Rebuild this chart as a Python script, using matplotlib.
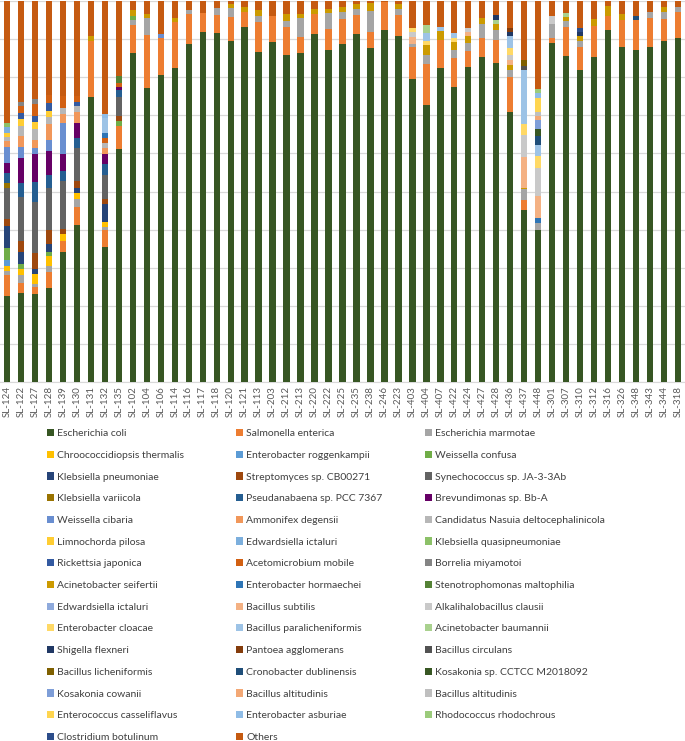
import matplotlib
matplotlib.use('Agg')
import matplotlib.pyplot as plt
from matplotlib.patches import Patch
import numpy as np

plt.rcParams['font.family'] = ['Lato', 'DejaVu Sans']

samples = ['SL-124', 'SL-122', 'SL-127', 'SL-128', 'SL-139', 'SL-130', 'SL-131', 'SL-132', 'SL-135',
           'SL-102', 'SL-104', 'SL-106', 'SL-114', 'SL-116', 'SL-117', 'SL-118', 'SL-120', 'SL-121', 'SL-113',
           'SL-203', 'SL-212', 'SL-213', 'SL-220', 'SL-222', 'SL-225', 'SL-235', 'SL-238', 'SL-246', 'SL-223',
           'SL-403', 'SL-404', 'SL-407', 'SL-422', 'SL-424', 'SL-427', 'SL-428', 'SL-436', 'SL-437', 'SL-448',
           'SL-301', 'SL-307', 'SL-310', 'SL-312', 'SL-316', 'SL-326', 'SL-348', 'SL-343', 'SL-344', 'SL-318']

# relative abundance (%) of the main taxa, one value per sample
ecoli = [22.5, 23.3, 23.0, 24.6, 34.0, 41.0, 75.0, 35.3, 61.0,
         86.5, 77.1, 80.4, 82.5, 88.8, 91.8, 91.6, 89.5, 93.3, 86.5,
         88.9, 85.8, 86.2, 91.3, 87.2, 88.7, 91.5, 87.5, 92.4, 90.8,
         79.7, 72.8, 82.3, 77.6, 82.7, 85.4, 83.6, 70.8, 45.3, 40.0,
         88.8, 85.4, 81.9, 85.2, 92.3, 88.0, 87.2, 88.0, 89.3, 90.4]
salmonella = [5.5, 2.6, 1.8, 4.2, 3.1, 4.7, 14.7, 4.5, 6.0,
              7.3, 14.0, 9.8, 12.1, 7.7, 5.1, 4.7, 6.4, 3.8, 8.1,
              7.0, 7.4, 4.2, 5.2, 5.5, 6.5, 5.0, 4.4, 7.4, 5.7,
              8.3, 10.6, 7.4, 7.4, 4.2, 5.0, 6.2, 9.3, 2.6, 0.0,
              1.4, 7.6, 5.9, 8.2, 3.7, 7.0, 7.8, 7.6, 6.0, 6.7]
marmotae = [1.0, 2.0, 1.0, 1.6, 0.0, 2.1, 0.0, 0.8, 0.0,
            1.2, 4.4, 0.0, 0.0, 1.1, 0.0, 1.9, 2.2, 0.0, 1.5,
            0.0, 1.6, 5.0, 0.0, 4.3, 1.7, 1.5, 5.4, 0.0, 1.5,
            0.9, 2.4, 0.0, 2.2, 2.2, 3.7, 2.6, 1.8, 2.9, 1.7,
            3.8, 1.7, 1.7, 0.0, 0.0, 0.0, 0.0, 1.5, 1.8, 1.4]
others = [32.0, 26.4, 25.7, 24.6, 25.0, 24.9, 9.2, 29.6, 19.6,
          2.4, 3.3, 8.6, 4.4, 2.4, 3.1, 1.8, 0.8, 1.7, 2.4,
          3.8, 3.3, 3.3, 2.2, 2.0, 1.7, 0.9, 0.6, 0.3, 0.9,
          7.0, 6.4, 6.7, 8.5, 7.2, 4.4, 3.7, 7.0, 15.5, 23.1,
          3.9, 3.1, 7.1, 4.8, 1.3, 3.5, 3.9, 2.9, 1.7, 1.5]

labels = ['Escherichia coli', 'Salmonella enterica', 'Escherichia marmotae',
          'Chroococcidiopsis thermalis', 'Enterobacter roggenkampii', 'Weissella confusa',
          'Klebsiella pneumoniae', 'Streptomyces sp. CB00271', 'Synechococcus sp. JA-3-3Ab',
          'Klebsiella variicola', 'Pseudanabaena sp. PCC 7367', 'Brevundimonas sp. Bb-A',
          'Weissella cibaria', 'Ammonifex degensii', 'Candidatus Nasuia deltocephalinicola',
          'Limnochorda pilosa', 'Edwardsiella ictaluri', 'Klebsiella quasipneumoniae',
          'Rickettsia japonica', 'Acetomicrobium mobile', 'Borrelia miyamotoi',
          'Acinetobacter seifertii', 'Enterobacter hormaechei', 'Stenotrophomonas maltophilia',
          'Edwardsiella ictaluri', 'Bacillus subtilis', 'Alkalihalobacillus clausii',
          'Enterobacter cloacae', 'Bacillus paralicheniformis', 'Acinetobacter baumannii',
          'Shigella flexneri', 'Pantoea agglomerans', 'Bacillus circulans',
          'Bacillus licheniformis', 'Cronobacter dublinensis', 'Kosakonia sp. CCTCC M2018092',
          'Kosakonia cowanii', 'Bacillus altitudinis', 'Bacillus altitudinis',
          'Enterococcus casseliflavus', 'Enterobacter asburiae', 'Rhodococcus rhodochrous',
          'Clostridium botulinum', 'Others']

colors = ['#375623', '#ED7D31', '#A5A5A5', '#FFC000', '#5B9BD5', '#70AD47',
          '#264478', '#9E480E', '#636363', '#997300', '#255E91', '#660066',
          '#698ED0', '#F1975A', '#B7B7B7', '#FFCD33', '#7CAFDD', '#8CC168',
          '#335AA1', '#D26012', '#848484', '#CC9A00', '#2E75B6', '#548235',
          '#8FAADC', '#F4B183', '#C9C9C9', '#FFD966', '#9DC3E6', '#A9D18E',
          '#203864', '#843C0C', '#525252', '#7F6000', '#1F4E79', '#385723',
          '#7E9ED8', '#F3A875', '#BFBFBF', '#FFD54F', '#8FBCE6', '#9BCB7B',
          '#2C4D8A', '#C55A11']

# minor taxa: legend position -> {sample: %}
minor = {
    3: {'SL-124': 1.3, 'SL-122': 1.8, 'SL-127': 2.6, 'SL-128': 2.6, 'SL-139': 1.6, 'SL-130': 1.6, 'SL-132': 1.3},
    4: {'SL-124': 1.6},
    5: {'SL-124': 3.2, 'SL-122': 1.3, 'SL-128': 1.0, 'SL-135': 1.3, 'SL-102': 1.1},
    6: {'SL-124': 5.8, 'SL-122': 2.9, 'SL-127': 1.3, 'SL-128': 2.1, 'SL-130': 1.3, 'SL-132': 4.7},
    7: {'SL-124': 1.8, 'SL-122': 2.9, 'SL-127': 4.2, 'SL-128': 3.7, 'SL-139': 1.3, 'SL-130': 1.8,
        'SL-132': 1.3, 'SL-135': 1.3},
    8: {'SL-124': 8.1, 'SL-122': 11.5, 'SL-127': 13.4, 'SL-128': 11.0, 'SL-139': 12.6, 'SL-130': 8.6,
        'SL-132': 6.3, 'SL-135': 5.0},
    9: {'SL-124': 1.3},
    10: {'SL-124': 2.6, 'SL-122': 3.9, 'SL-127': 5.2, 'SL-128': 3.4, 'SL-139': 2.6, 'SL-130': 2.6,
         'SL-132': 2.9, 'SL-135': 1.8},
    11: {'SL-124': 2.6, 'SL-122': 6.3, 'SL-127': 7.3, 'SL-128': 6.3, 'SL-139': 4.7, 'SL-130': 3.9,
         'SL-132': 2.6, 'SL-135': 1.0},
    12: {'SL-124': 4.2, 'SL-122': 3.1, 'SL-127': 1.6, 'SL-128': 3.1, 'SL-139': 7.9, 'SL-106': 1.1},
    13: {'SL-124': 1.8, 'SL-122': 2.9, 'SL-127': 2.1, 'SL-128': 4.2, 'SL-139': 2.4, 'SL-130': 2.9, 'SL-132': 1.6},
    14: {'SL-124': 1.0, 'SL-122': 2.4, 'SL-127': 2.9, 'SL-128': 1.8, 'SL-139': 1.6, 'SL-130': 1.6, 'SL-132': 1.3},
    15: {'SL-124': 1.0, 'SL-122': 2.0, 'SL-127': 1.8, 'SL-128': 1.6},
    16: {'SL-124': 1.6},
    17: {'SL-124': 1.0},
    18: {'SL-122': 1.6, 'SL-127': 1.6, 'SL-128': 2.1, 'SL-130': 1.0},
    19: {'SL-122': 1.8, 'SL-127': 3.1, 'SL-128': 2.1, 'SL-139': 3.1, 'SL-130': 1.6, 'SL-132': 1.3, 'SL-135': 1.0},
    20: {'SL-122': 1.0, 'SL-127': 1.3},
    21: {'SL-131': 1.3, 'SL-102': 1.6, 'SL-104': 1.2, 'SL-114': 1.1, 'SL-120': 1.1, 'SL-121': 1.2,
         'SL-113': 1.5, 'SL-212': 1.9, 'SL-213': 1.2, 'SL-220': 1.3, 'SL-222': 1.1, 'SL-225': 1.3,
         'SL-235': 1.2, 'SL-238': 2.0, 'SL-223': 1.2, 'SL-404': 2.7, 'SL-407': 2.4, 'SL-422': 2.1,
         'SL-424': 1.6, 'SL-427': 1.6, 'SL-428': 1.5, 'SL-436': 1.1, 'SL-437': 0.3, 'SL-307': 1.1,
         'SL-310': 1.1, 'SL-312': 1.8, 'SL-316': 2.6, 'SL-326': 1.5, 'SL-344': 1.1},
    22: {'SL-132': 1.3, 'SL-448': 1.4},
    23: {'SL-135': 1.8},
    25: {'SL-403': 1.8, 'SL-424': 1.2, 'SL-436': 1.5, 'SL-437': 7.9, 'SL-448': 5.9},
    26: {'SL-403': 1.3, 'SL-424': 0.9, 'SL-436': 1.3, 'SL-437': 5.8, 'SL-448': 7.4, 'SL-301': 2.0},
    27: {'SL-403': 1.1, 'SL-404': 1.0, 'SL-422': 1.1, 'SL-436': 1.7, 'SL-437': 3.0, 'SL-448': 3.1},
    28: {'SL-132': 3.9, 'SL-404': 2.1, 'SL-407': 1.1, 'SL-422': 1.2, 'SL-436': 3.3, 'SL-437': 14.2, 'SL-448': 2.9},
    29: {'SL-404': 2.0, 'SL-428': 1.1, 'SL-307': 1.0},
    30: {'SL-428': 1.3, 'SL-436': 1.1, 'SL-310': 1.1},
    31: {'SL-436': 1.0},
    32: {'SL-437': 0.9},
    33: {'SL-437': 1.7},
    34: {'SL-448': 2.4, 'SL-348': 1.1},
    35: {'SL-448': 1.7},
    36: {'SL-448': 2.4},
    37: {'SL-448': 1.1},
    38: {'SL-448': 1.1},
    39: {'SL-448': 3.6},
    40: {'SL-132': 1.0, 'SL-448': 1.2},
    41: {'SL-448': 1.2},
    42: {'SL-310': 1.1},
}

table = np.zeros((len(labels), len(samples)))
table[0] = ecoli
table[1] = salmonella
table[2] = marmotae
table[-1] = others
for k, vals in minor.items():
    for s, v in vals.items():
        table[k, samples.index(s)] = v
table = table / table.sum(axis=0) * 100  # 100% stacked

W, H = 685, 741
fig = plt.figure(figsize=(W / 100, H / 100), dpi=100)
ax = fig.add_axes([0, 1 - 382 / H, 1, 381 / H])

x = np.arange(len(samples))
bottom = np.zeros(len(samples))
for i in range(len(labels)):
    ax.bar(x, table[i], 0.45, bottom=bottom, color=colors[i], zorder=3)
    bottom += table[i]

ax.set_xlim(-0.5, len(samples) - 0.5)
ax.set_ylim(0, 100)
ax.set_yticks(np.arange(0, 101, 10))
ax.yaxis.set_ticklabels([])
ax.grid(axis='y', color='#D9D9D9', lw=0.9, zorder=0)
for side in ['left', 'right', 'top']:
    ax.spines[side].set_visible(False)
ax.spines['bottom'].set_color('#D9D9D9')
ax.set_xticks(x, samples, rotation=90, fontsize=7, color='#595959')
ax.tick_params(axis='both', length=0)
ax.tick_params(axis='x', pad=3)

# legend laid out row by row in three columns, like the original
handles = [Patch(facecolor=c, edgecolor='none') for c in colors]
col_x = [47, 236, 425]
for c in range(3):
    idx = list(range(c, len(labels), 3))
    fig.legend([handles[i] for i in idx], [labels[i] for i in idx],
               loc='upper left', bbox_to_anchor=(col_x[c] / W, 1 - 429 / H),
               frameon=False, fontsize=7.5, labelcolor='#404040',
               handlelength=0.7, handleheight=0.7, handletextpad=0.3,
               labelspacing=1.19, borderpad=0, borderaxespad=0)

fig.savefig('out.png', dpi=100)
